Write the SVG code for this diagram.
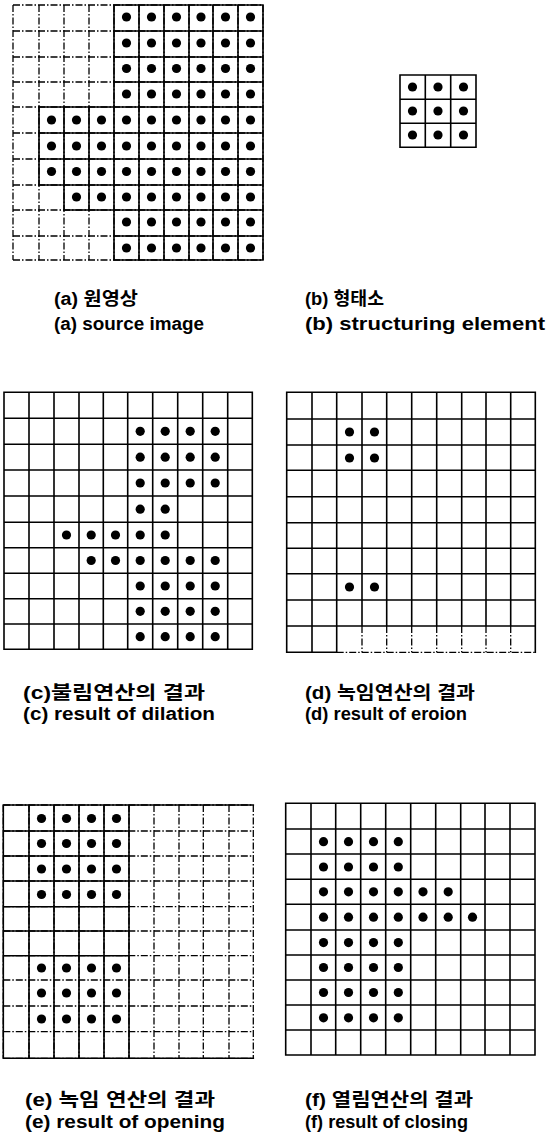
<svg xmlns="http://www.w3.org/2000/svg" width="549" height="1140" viewBox="0 0 549 1140">
<style>
.g{fill:none;stroke:#000;stroke-width:1.6;stroke-linecap:square}
.dash{fill:none;stroke:#000;stroke-width:1.3;stroke-dasharray:7 2 1.5 2}
.t{font-family:'Liberation Sans','Noto Sans CJK KR',sans-serif;font-weight:bold;font-size:18px;fill:#000}
</style>
<defs><circle id="dot" r="4.6" fill="#000"/></defs>
<rect width="549" height="1140" fill="#fff"/>

<g id="panel-a">
<path class="dash" d="M13 5H263M13 31H263M13 57H263M13 82H263M13 107H263M13 133H263M13 159H263M13 185H263M13 210H263M13 236H263M13 260H263M13 5V260M39 5V260M64 5V260M89 5V260M114 5V260M139 5V260M164 5V260M189 5V260M213 5V260M238 5V260M263 5V260"/>
<path class="g" d="M114 5H263M114 31H263M114 57H263M114 82H263M39 107H263M39 133H263M39 159H263M39 185H263M64 210H263M114 236H263M114 260H263M39 107V185M64 107V210M89 107V210M114 5V260M139 5V260M164 5V260M189 5V260M213 5V260M238 5V260M263 5V260"/>
<g>
<use href="#dot" x="126.5" y="17"/><use href="#dot" x="151.5" y="17"/><use href="#dot" x="176.5" y="17"/><use href="#dot" x="201" y="17"/><use href="#dot" x="225.5" y="17"/><use href="#dot" x="250.5" y="17"/>
<use href="#dot" x="126.5" y="43"/><use href="#dot" x="151.5" y="43"/><use href="#dot" x="176.5" y="43"/><use href="#dot" x="201" y="43"/><use href="#dot" x="225.5" y="43"/><use href="#dot" x="250.5" y="43"/>
<use href="#dot" x="126.5" y="68.5"/><use href="#dot" x="151.5" y="68.5"/><use href="#dot" x="176.5" y="68.5"/><use href="#dot" x="201" y="68.5"/><use href="#dot" x="225.5" y="68.5"/><use href="#dot" x="250.5" y="68.5"/>
<use href="#dot" x="126.5" y="94"/><use href="#dot" x="151.5" y="94"/><use href="#dot" x="176.5" y="94"/><use href="#dot" x="201" y="94"/><use href="#dot" x="225.5" y="94"/><use href="#dot" x="250.5" y="94"/>
<use href="#dot" x="51.5" y="120"/><use href="#dot" x="76.5" y="120"/><use href="#dot" x="101.5" y="120"/><use href="#dot" x="126.5" y="120"/><use href="#dot" x="151.5" y="120"/><use href="#dot" x="176.5" y="120"/><use href="#dot" x="201" y="120"/><use href="#dot" x="225.5" y="120"/><use href="#dot" x="250.5" y="120"/>
<use href="#dot" x="51.5" y="146"/><use href="#dot" x="76.5" y="146"/><use href="#dot" x="101.5" y="146"/><use href="#dot" x="126.5" y="146"/><use href="#dot" x="151.5" y="146"/><use href="#dot" x="176.5" y="146"/><use href="#dot" x="201" y="146"/><use href="#dot" x="225.5" y="146"/><use href="#dot" x="250.5" y="146"/>
<use href="#dot" x="51.5" y="171.5"/><use href="#dot" x="76.5" y="171.5"/><use href="#dot" x="101.5" y="171.5"/><use href="#dot" x="126.5" y="171.5"/><use href="#dot" x="151.5" y="171.5"/><use href="#dot" x="176.5" y="171.5"/><use href="#dot" x="201" y="171.5"/><use href="#dot" x="225.5" y="171.5"/><use href="#dot" x="250.5" y="171.5"/>
<use href="#dot" x="76.5" y="197"/><use href="#dot" x="101.5" y="197"/><use href="#dot" x="126.5" y="197"/><use href="#dot" x="151.5" y="197"/><use href="#dot" x="176.5" y="197"/><use href="#dot" x="201" y="197"/><use href="#dot" x="225.5" y="197"/><use href="#dot" x="250.5" y="197"/>
<use href="#dot" x="126.5" y="222"/><use href="#dot" x="151.5" y="222"/><use href="#dot" x="176.5" y="222"/><use href="#dot" x="201" y="222"/><use href="#dot" x="225.5" y="222"/><use href="#dot" x="250.5" y="222"/>
<use href="#dot" x="126.5" y="248"/><use href="#dot" x="151.5" y="248"/><use href="#dot" x="176.5" y="248"/><use href="#dot" x="201" y="248"/><use href="#dot" x="225.5" y="248"/><use href="#dot" x="250.5" y="248"/>
</g>
<text class="t" x="54" y="305" textLength="84" lengthAdjust="spacingAndGlyphs">(a) 원영상</text>
<text class="t" x="54" y="330" textLength="150" lengthAdjust="spacingAndGlyphs">(a) source image</text>
</g>

<g id="panel-b">
<path class="g" d="M400 75H476M400 99.3H476M400 123.3H476M400 147.3H476M400 75V147.3M425.3 75V147.3M450.7 75V147.3M476 75V147.3"/>
<use href="#dot" x="412.5" y="87"/><use href="#dot" x="438" y="87"/><use href="#dot" x="463.5" y="87"/>
<use href="#dot" x="412.5" y="111"/><use href="#dot" x="438" y="111"/><use href="#dot" x="463.5" y="111"/>
<use href="#dot" x="412.5" y="135"/><use href="#dot" x="438" y="135"/><use href="#dot" x="463.5" y="135"/>
<text class="t" x="305" y="305" textLength="79" lengthAdjust="spacingAndGlyphs">(b) 형태소</text>
<text class="t" x="305" y="330" textLength="240" lengthAdjust="spacingAndGlyphs">(b) structuring element</text>
</g>

<g id="panel-c">
<path class="g" d="M4 392.3H252.3M4 418.3H252.3M4 444.3H252.3M4 470H252.3M4 496H252.3M4 522.3H252.3M4 547.7H252.3M4 573.3H252.3M4 598.7H252.3M4 624H252.3M4 649.3H252.3M4 392.3V649.3M29 392.3V649.3M54 392.3V649.3M79 392.3V649.3M103.3 392.3V649.3M127.7 392.3V649.3M152.7 392.3V649.3M177.7 392.3V649.3M202.7 392.3V649.3M227.7 392.3V649.3M252.3 392.3V649.3"/>
<use href="#dot" x="140.2" y="431.3"/><use href="#dot" x="165.2" y="431.3"/><use href="#dot" x="190.2" y="431.3"/><use href="#dot" x="215.2" y="431.3"/>
<use href="#dot" x="140.2" y="457.2"/><use href="#dot" x="165.2" y="457.2"/><use href="#dot" x="190.2" y="457.2"/><use href="#dot" x="215.2" y="457.2"/>
<use href="#dot" x="140.2" y="483"/><use href="#dot" x="165.2" y="483"/><use href="#dot" x="190.2" y="483"/><use href="#dot" x="215.2" y="483"/>
<use href="#dot" x="140.2" y="509.2"/><use href="#dot" x="165.2" y="509.2"/>
<use href="#dot" x="66.5" y="535"/><use href="#dot" x="91.2" y="535"/><use href="#dot" x="115.5" y="535"/><use href="#dot" x="140.2" y="535"/><use href="#dot" x="165.2" y="535"/>
<use href="#dot" x="91.2" y="560.5"/><use href="#dot" x="115.5" y="560.5"/><use href="#dot" x="140.2" y="560.5"/><use href="#dot" x="165.2" y="560.5"/><use href="#dot" x="190.2" y="560.5"/><use href="#dot" x="215.2" y="560.5"/>
<use href="#dot" x="140.2" y="586"/><use href="#dot" x="165.2" y="586"/><use href="#dot" x="190.2" y="586"/><use href="#dot" x="215.2" y="586"/>
<use href="#dot" x="140.2" y="611.3"/><use href="#dot" x="165.2" y="611.3"/><use href="#dot" x="190.2" y="611.3"/><use href="#dot" x="215.2" y="611.3"/>
<use href="#dot" x="140.2" y="636.7"/><use href="#dot" x="165.2" y="636.7"/><use href="#dot" x="190.2" y="636.7"/><use href="#dot" x="215.2" y="636.7"/>
<text class="t" x="23" y="699" textLength="182" lengthAdjust="spacingAndGlyphs">(c)불림연산의 결과</text>
<text class="t" x="23" y="720" textLength="192" lengthAdjust="spacingAndGlyphs">(c) result of dilation</text>
</g>

<g id="panel-d">
<path class="g" d="M286.7 392.3H535.3M286.7 419H535.3M286.7 445H535.3M286.7 470.3H535.3M286.7 496.7H535.3M286.7 522.7H535.3M286.7 548.3H535.3M286.7 573.7H535.3M286.7 600H535.3M286.7 626H535.3M286.7 652.3H336.7M286.7 392.3V652.3M312 392.3V652.3M336.7 392.3V652.3M362 392.3V626M386.7 392.3V626M411.7 392.3V626M436.7 392.3V626M461.7 392.3V626M486 392.3V626M510.7 392.3V626M535.3 392.3V652.3"/>
<path class="dash" d="M336.7 652.3H535.3M362 626V652.3M386.7 626V652.3M411.7 626V652.3M436.7 626V652.3M461.7 626V652.3M486 626V652.3M510.7 626V652.3"/>
<use href="#dot" x="349.5" y="432"/><use href="#dot" x="374.5" y="432"/>
<use href="#dot" x="349.5" y="458"/><use href="#dot" x="374.5" y="458"/>
<use href="#dot" x="349.5" y="587"/><use href="#dot" x="374.5" y="587"/>
<text class="t" x="305" y="699" textLength="170" lengthAdjust="spacingAndGlyphs">(d) 녹임연산의 결과</text>
<text class="t" x="305" y="720" textLength="162" lengthAdjust="spacingAndGlyphs">(d) result of eroion</text>
</g>

<g id="panel-e">
<path class="dash" d="M3.3 805H253.3M3.3 831H253.3M3.3 856H253.3M3.3 881H253.3M3.3 906.7H253.3M3.3 931H253.3M3.3 955.7H253.3M3.3 980H253.3M3.3 1006H253.3M3.3 1031.7H253.3M3.3 1058.3H253.3M3.3 805V1058.3M29 805V1058.3M54 805V1058.3M79 805V1058.3M104 805V1058.3M129 805V1058.3M154 805V1058.3M179 805V1058.3M203.3 805V1058.3M229 805V1058.3M253.3 805V1058.3"/>
<path class="g" d="M3.3 805H253.3M3.3 831H129M3.3 856H129M3.3 881H129M3.3 906.7H129M3.3 931H129M3.3 955.7H129M3.3 1058.3H253.3M3.3 805V1058.3M29 805V1058.3M54 805V1058.3M79 805V1058.3M104 805V1058.3M129 805V1058.3"/>
<use href="#dot" x="41.5" y="818.5"/><use href="#dot" x="66.5" y="818.5"/><use href="#dot" x="91.5" y="818.5"/><use href="#dot" x="116.5" y="818.5"/>
<use href="#dot" x="41.5" y="843.5"/><use href="#dot" x="66.5" y="843.5"/><use href="#dot" x="91.5" y="843.5"/><use href="#dot" x="116.5" y="843.5"/>
<use href="#dot" x="41.5" y="869"/><use href="#dot" x="66.5" y="869"/><use href="#dot" x="91.5" y="869"/><use href="#dot" x="116.5" y="869"/>
<use href="#dot" x="41.5" y="894.5"/><use href="#dot" x="66.5" y="894.5"/><use href="#dot" x="91.5" y="894.5"/><use href="#dot" x="116.5" y="894.5"/>
<use href="#dot" x="41.5" y="968"/><use href="#dot" x="66.5" y="968"/><use href="#dot" x="91.5" y="968"/><use href="#dot" x="116.5" y="968"/>
<use href="#dot" x="41.5" y="993"/><use href="#dot" x="66.5" y="993"/><use href="#dot" x="91.5" y="993"/><use href="#dot" x="116.5" y="993"/>
<use href="#dot" x="41.5" y="1019"/><use href="#dot" x="66.5" y="1019"/><use href="#dot" x="91.5" y="1019"/><use href="#dot" x="116.5" y="1019"/>
<text class="t" x="25" y="1106" textLength="190" lengthAdjust="spacingAndGlyphs">(e) 녹임 연산의 결과</text>
<text class="t" x="25" y="1128" textLength="200" lengthAdjust="spacingAndGlyphs">(e) result of opening</text>
</g>

<g id="panel-f">
<path class="g" d="M285.7 803.3H535M285.7 829H535M285.7 854H535M285.7 879.3H535M285.7 904.3H535M285.7 930H535M285.7 955H535M285.7 980H535M285.7 1005H535M285.7 1030H535M285.7 1055H535M285.7 803.3V1055M311 803.3V1055M335.7 803.3V1055M360.7 803.3V1055M385.7 803.3V1055M410.7 803.3V1055M435.7 803.3V1055M460.7 803.3V1055M485 803.3V1055M510 803.3V1055M535 803.3V1055"/>
<use href="#dot" x="323.5" y="841.7"/><use href="#dot" x="348.5" y="841.7"/><use href="#dot" x="373.5" y="841.7"/><use href="#dot" x="398.3" y="841.7"/>
<use href="#dot" x="323.5" y="867"/><use href="#dot" x="348.5" y="867"/><use href="#dot" x="373.5" y="867"/><use href="#dot" x="398.3" y="867"/>
<use href="#dot" x="323.5" y="891.8"/><use href="#dot" x="348.5" y="891.8"/><use href="#dot" x="373.5" y="891.8"/><use href="#dot" x="398.3" y="891.8"/><use href="#dot" x="423" y="891.8"/><use href="#dot" x="448.2" y="891.8"/>
<use href="#dot" x="323.5" y="917.2"/><use href="#dot" x="348.5" y="917.2"/><use href="#dot" x="373.5" y="917.2"/><use href="#dot" x="398.3" y="917.2"/><use href="#dot" x="423" y="917.2"/><use href="#dot" x="448.2" y="917.2"/><use href="#dot" x="472.5" y="917.2"/>
<use href="#dot" x="323.5" y="942.6"/><use href="#dot" x="348.5" y="942.6"/><use href="#dot" x="373.5" y="942.6"/><use href="#dot" x="398.3" y="942.6"/>
<use href="#dot" x="323.5" y="967.5"/><use href="#dot" x="348.5" y="967.5"/><use href="#dot" x="373.5" y="967.5"/><use href="#dot" x="398.3" y="967.5"/>
<use href="#dot" x="323.5" y="992.5"/><use href="#dot" x="348.5" y="992.5"/><use href="#dot" x="373.5" y="992.5"/><use href="#dot" x="398.3" y="992.5"/>
<use href="#dot" x="323.5" y="1017.8"/><use href="#dot" x="348.5" y="1017.8"/><use href="#dot" x="373.5" y="1017.8"/><use href="#dot" x="398.3" y="1017.8"/>
<text class="t" x="305" y="1106" textLength="168" lengthAdjust="spacingAndGlyphs">(f) 열림연산의 결과</text>
<text class="t" x="305" y="1128" textLength="163" lengthAdjust="spacingAndGlyphs">(f) result of closing</text>
</g>
</svg>
